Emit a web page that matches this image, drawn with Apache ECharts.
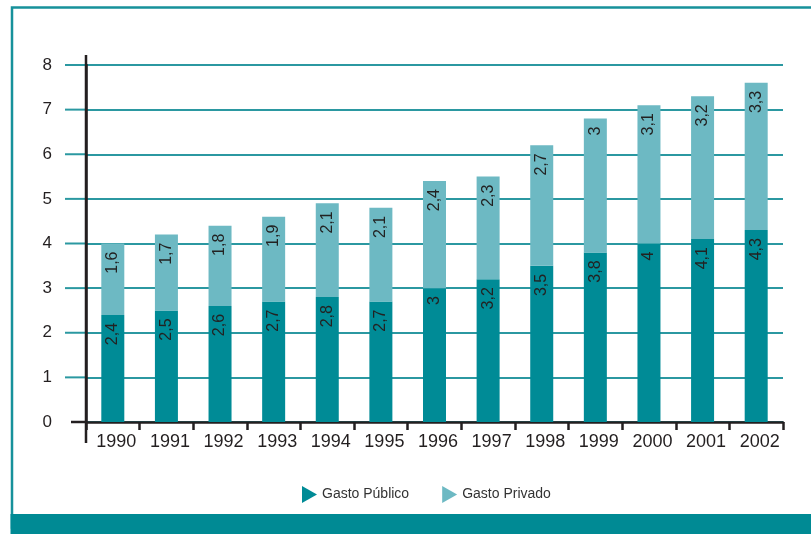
<!DOCTYPE html>
<html>
<head>
<meta charset="utf-8">
<script src="https://cdn.jsdelivr.net/npm/echarts@6/dist/echarts.min.js"></script>
<style>
html,body{margin:0;padding:0;background:#fff;}
#c{width:811px;height:534px;}
</style>
</head>
<body>
<div id="c"></div>
<script>
var years = ['1990','1991','1992','1993','1994','1995','1996','1997','1998','1999','2000','2001','2002'];
var gastoPublico = [2.4, 2.5, 2.6, 2.7, 2.8, 2.7, 3, 3.2, 3.5, 3.8, 4, 4.1, 4.3];
var gastoPrivado = [1.6, 1.7, 1.8, 1.9, 2.1, 2.1, 2.4, 2.3, 2.7, 3, 3.1, 3.2, 3.3];
var yTicks = [0, 1, 2, 3, 4, 5, 6, 7, 8];

var DARK = '#008b96';
var LIGHT = '#6db9c3';
var GRID = '#2b98a1';
var FONT = '"Liberation Sans", Arial, Helvetica, sans-serif';

var chart = echarts.init(document.getElementById('c'), null, {renderer: 'canvas'});

function fmt(p) { return String(p.value).replace('.', ','); }

var labelCfg = {
  show: true,
  position: 'insideTop',
  rotate: 90,
  align: 'right',
  verticalAlign: 'middle',
  distance: 8,
  formatter: fmt,
  color: '#222',
  fontSize: 16,
  fontFamily: FONT
};

var triangle = 'path://M0,0 L15,8.5 L0,17 Z';

var option = {
  animation: false,
  backgroundColor: '#fff',
  textStyle: {fontFamily: FONT},
  grid: {left: 86, right: 28, top: 65, bottom: 112, containLabel: false},
  legend: {
    left: 297,
    top: 481,
    itemWidth: 15,
    itemHeight: 17,
    itemGap: 33,
    textStyle: {fontSize: 14, color: '#333', fontFamily: FONT},
    data: [
      {name: 'Gasto Público', icon: triangle},
      {name: 'Gasto Privado', icon: triangle}
    ]
  },
  xAxis: {
    type: 'category',
    data: years,
    boundaryGap: true,
    axisLine: {show: true, lineStyle: {color: '#231f20', width: 2.5}},
    axisTick: {show: true, length: 8, lineStyle: {color: '#231f20', width: 2.5}},
    axisLabel: {color: '#231f20', fontSize: 18, margin: 11, fontFamily: FONT, padding: [0, 0, 0, 7]},
    splitLine: {show: false}
  },
  yAxis: {
    type: 'value',
    min: yTicks[0],
    max: yTicks[yTicks.length - 1],
    interval: 1,
    axisLine: {show: true, lineStyle: {color: '#231f20', width: 2.5}},
    axisTick: {show: false},
    axisLabel: {color: '#231f20', fontSize: 17, margin: 34, fontFamily: FONT},
    splitLine: {show: true, lineStyle: {color: GRID, width: 2}}
  },
  series: [
    {
      name: 'Gasto Público',
      type: 'bar',
      stack: 'g',
      data: gastoPublico,
      barWidth: 23,
      itemStyle: {color: DARK},
      label: labelCfg
    },
    {
      name: 'Gasto Privado',
      type: 'bar',
      stack: 'g',
      data: gastoPrivado,
      barWidth: 23,
      itemStyle: {color: LIGHT},
      label: labelCfg
    }
  ]
};

chart.setOption(option);

// Decorations computed from the chart's own scales
var axisX = 86;
var y0 = chart.convertToPixel({yAxisIndex: 0}, 0);
var y8 = chart.convertToPixel({yAxisIndex: 0}, yTicks[yTicks.length - 1]);
var graphics = [];
// frame
graphics.push({type: 'rect', z: -1, shape: {x: 12, y: 7.5, width: 830, height: 520}, style: {fill: 'none', stroke: '#17919b', lineWidth: 2.5}});
graphics.push({type: 'rect', z: 10, shape: {x: 10.5, y: 514, width: 801, height: 20}, style: {fill: '#008a94'}});
// gridline extensions left of the y axis
yTicks.forEach(function (v) {
  if (v === 0) return;
  var py = chart.convertToPixel({yAxisIndex: 0}, v);
  graphics.push({type: 'line', shape: {x1: 65, y1: py, x2: axisX, y2: py}, style: {stroke: GRID, lineWidth: 2}});
});
// axis extensions
graphics.push({type: 'line', z: 5, shape: {x1: axisX, y1: y8 - 10, x2: axisX, y2: y0 + 21}, style: {stroke: '#231f20', lineWidth: 2.5}});
graphics.push({type: 'line', z: 5, shape: {x1: 71, y1: y0, x2: axisX, y2: y0}, style: {stroke: '#231f20', lineWidth: 2.5}});

chart.setOption({graphic: graphics});
</script>
</body>
</html>
